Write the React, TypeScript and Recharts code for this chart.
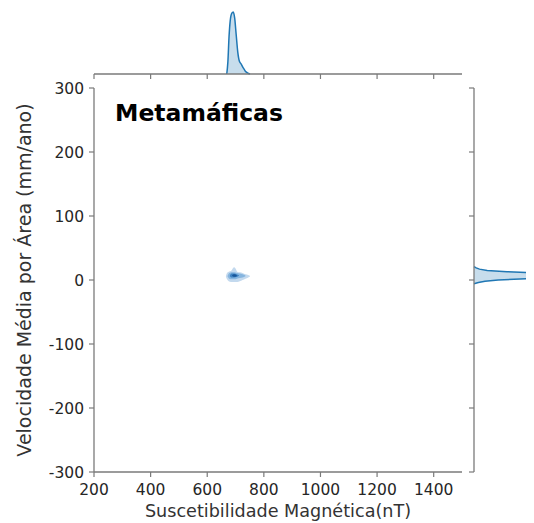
import React from 'react';
import { ComposedChart, AreaChart, Area, XAxis, YAxis } from 'recharts';

// ---- axis ticks ----
const xTicks = [200, 400, 600, 800, 1000, 1200, 1400];
const yTicks = [-300, -200, -100, 0, 100, 200, 300];
const xDomain = [200, 1500];
const yDomain = [-300, 300];

// ---- top marginal KDE (Suscetibilidade) ----
const topX = [669, 673, 677, 681, 687, 692, 697, 702, 708, 714, 720, 727, 734, 742, 751];
const topDensity = [0, 0.2, 0.6, 0.85, 0.98, 1.0, 0.9, 0.65, 0.35, 0.2, 0.16, 0.1, 0.05, 0.02, 0];

// ---- right marginal KDE (Velocidade) ----
const rightY = [-6, -4, -2, 0, 2, 4, 6, 7, 8, 10, 11, 13, 15, 17, 19, 21];
const rightDensity = [0, 0.04, 0.1, 0.22, 0.5, 0.8, 0.97, 1.0, 0.97, 0.75, 0.55, 0.3, 0.12, 0.05, 0.02, 0];

// ---- joint KDE filled contour levels (x, low, high) ----
const level1X = [666, 670, 676, 684, 690, 695, 700, 706, 715, 725, 735, 745, 751];
const level1Lo = [5, 1, -2, -3, -3, -3, -3, -3, -2, 0, 2, 4, 5.5];
const level1Hi = [6, 11, 13, 14, 18, 20, 18, 13, 12, 11, 9, 8, 6.5];
const level2X = [672, 678, 686, 695, 705, 715, 725, 735];
const level2Lo = [5.5, 2, 1, 1, 2, 3, 4, 6];
const level2Hi = [6.5, 11, 12, 12, 11, 10, 9, 7];
const level3X = [680, 686, 695, 704, 712];
const level3Lo = [6, 4, 4, 4.5, 6.5];
const level3Hi = [7, 10, 10, 9, 7.5];
const level4X = [688, 694, 700, 705];
const level4Lo = [6.5, 5, 5, 6.5];
const level4Hi = [7.5, 9, 8.5, 7];

const title = 'Metamáficas';
const xLabel = 'Suscetibilidade Magnética(nT)';
const yLabel = 'Velocidade Média por Área (mm/ano)';

const levelColors = ['#c3d9ee', '#86b5df', '#3f83c3', '#17559a'];

const build = (xs: number[], lo: number[], hi: number[]) =>
  xs.map((x, i) => ({ x, r: [lo[i], hi[i]] }));

const levels = [
  build(level1X, level1Lo, level1Hi),
  build(level2X, level2Lo, level2Hi),
  build(level3X, level3Lo, level3Hi),
  build(level4X, level4Lo, level4Hi),
];

const topData = topX.map((x, i) => ({ x, d: topDensity[i] }));
const rightData = rightY.map((y, i) => ({ y, d: rightDensity[i] }));

const FONT = '"DejaVu Sans", sans-serif';
const SPINE = '#7a7a7a';
const TICKTXT = '#262626';
const tickFont = { fontSize: 15.5, fontFamily: FONT, fill: TICKTXT };

export default function App() {
  return (
    <div style={{ position: 'relative', width: 526, height: 515, overflow: 'hidden', background: '#fff' }}>
      {/* main joint chart */}
      <div style={{ position: 'absolute', left: 0, top: 0 }}>
        <ComposedChart
          width={470}
          height={515}
          margin={{ top: 80, right: 16, left: 0, bottom: 0 }}
        >
          <XAxis
            type="number"
            dataKey="x"
            domain={xDomain}
            ticks={xTicks}
            allowDataOverflow
            height={51}
            tickSize={5}
            tickMargin={7}
            axisLine={{ stroke: SPINE, strokeWidth: 1.3 }}
            tickLine={{ stroke: SPINE, strokeWidth: 1.2 }}
            tick={tickFont}
            label={{
              value: xLabel,
              position: 'insideBottom',
              offset: 6,
              style: { fontSize: 17.6, fontFamily: FONT, fill: '#333' },
            }}
          />
          <YAxis
            type="number"
            domain={yDomain}
            ticks={yTicks}
            allowDataOverflow
            width={86}
            tickSize={5}
            tickMargin={5}
            axisLine={{ stroke: SPINE, strokeWidth: 1.3 }}
            tickLine={{ stroke: SPINE, strokeWidth: 1.2 }}
            tick={tickFont}
            label={{
              value: yLabel,
              angle: -90,
              position: 'insideLeft',
              offset: 16,
              style: { fontSize: 19, fontFamily: FONT, fill: '#333', textAnchor: 'middle' },
            }}
          />
          {levels.map((lv, i) => (
            <Area
              key={i}
              data={lv}
              dataKey="r"
              type="monotone"
              stroke="none"
              fill={levelColors[i]}
              fillOpacity={1}
              isAnimationActive={false}
              dot={false}
              activeDot={false}
            />
          ))}
        </ComposedChart>
      </div>

      {/* top marginal */}
      <div style={{ position: 'absolute', left: 0, top: 0 }}>
        <AreaChart
          width={470}
          height={76}
          data={topData}
          margin={{ top: 4, right: 16, left: 86, bottom: 0 }}
        >
          <XAxis
            type="number"
            dataKey="x"
            domain={xDomain}
            ticks={xTicks}
            allowDataOverflow
            height={10}
            tickSize={5}
            tickFormatter={() => ''}
            axisLine={{ stroke: SPINE, strokeWidth: 1.3 }}
            tickLine={{ stroke: SPINE, strokeWidth: 1.2 }}
          />
          <YAxis type="number" domain={[0, 1]} hide />
          <Area
            dataKey="d"
            type="monotone"
            stroke="#1f77b4"
            strokeWidth={1.5}
            fill="#1f77b4"
            fillOpacity={0.25}
            isAnimationActive={false}
            dot={false}
            activeDot={false}
          />
        </AreaChart>
      </div>

      {/* right marginal */}
      <div style={{ position: 'absolute', left: 456, top: 0 }}>
        <AreaChart
          width={120}
          height={515}
          layout="vertical"
          data={rightData}
          margin={{ top: 80, right: 0, left: 0, bottom: 51 }}
        >
          <XAxis type="number" domain={[0, 1]} hide />
          <YAxis
            type="number"
            dataKey="y"
            domain={yDomain}
            ticks={yTicks}
            reversed
            allowDataOverflow
            width={10}
            tickSize={5}
            tickFormatter={() => ''}
            axisLine={{ stroke: SPINE, strokeWidth: 1.3 }}
            tickLine={{ stroke: SPINE, strokeWidth: 1.2 }}
          />
          <Area
            dataKey="d"
            type="linear"
            stroke="#1f77b4"
            strokeWidth={1.5}
            fill="#1f77b4"
            fillOpacity={0.25}
            isAnimationActive={false}
            dot={false}
            activeDot={false}
          />
        </AreaChart>
      </div>

      {/* panel title */}
      <div
        style={{
          position: 'absolute',
          left: 107,
          top: 93.5,
          fontFamily: FONT,
          fontWeight: 'bold',
          fontSize: 23.5,
          lineHeight: '23px',
          color: '#000',
          whiteSpace: 'nowrap',
        }}
      >
        {title}
      </div>
    </div>
  );
}
